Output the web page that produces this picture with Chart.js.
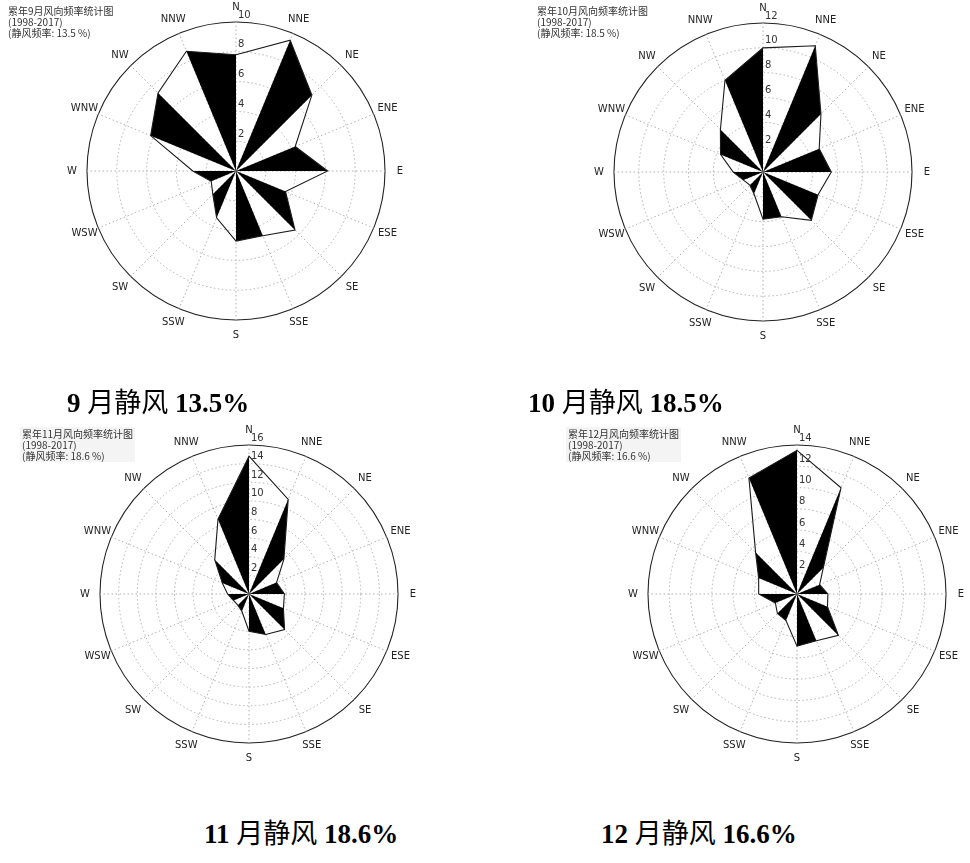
<!DOCTYPE html>
<html><head><meta charset="utf-8">
<script src="https://cdn.jsdelivr.net/npm/chart.js@4.4.0/dist/chart.umd.min.js"></script>
<style>
html,body{margin:0;padding:0;background:#fff;}
body{width:970px;height:863px;position:relative;overflow:hidden;}
canvas.rose{position:absolute;}
.title{position:absolute;font-family:"Noto Sans CJK SC",sans-serif;font-size:10px;line-height:11px;color:#333;white-space:pre;z-index:2;padding:1px 2px;}
.title.shade{background:#f4f4f4;}
.cap{position:absolute;font-family:"Liberation Serif","Noto Sans CJK SC",serif;font-size:27px;line-height:27px;color:#000;white-space:nowrap;}
.cap b{font-weight:bold;}
.cap .zh{font-family:"Noto Sans CJK SC",sans-serif;font-weight:normal;}
</style></head>
<body>
<div class="title" style="left:6px;top:4px;">累年9月风向频率统计图
(1998-2017)
(静风频率: 13.5 %)</div>
<div class="title" style="left:535px;top:4px;">累年10月风向频率统计图
(1998-2017)
(静风频率: 18.5 %)</div>
<div class="title shade" style="left:20px;top:427px;">累年11月风向频率统计图
(1998-2017)
(静风频率: 18.6 %)</div>
<div class="title shade" style="left:566px;top:427px;">累年12月风向频率统计图
(1998-2017)
(静风频率: 16.6 %)</div>

<canvas class="rose" id="c1" width="360" height="360" style="left:56px;top:-9px;"></canvas>
<canvas class="rose" id="c2" width="360" height="360" style="left:583px;top:-8px;"></canvas>
<canvas class="rose" id="c3" width="360" height="360" style="left:69px;top:414px;"></canvas>
<canvas class="rose" id="c4" width="360" height="360" style="left:617px;top:414px;"></canvas>

<div class="cap" style="left:67px;top:387px;"><b>9</b> <span class="zh">月静风</span> <b>13.5%</b></div>
<div class="cap" style="left:528px;top:387px;"><b>10</b> <span class="zh">月静风</span> <b>18.5%</b></div>
<div class="cap" style="left:204px;top:818px;"><b>11</b> <span class="zh">月静风</span> <b>18.6%</b></div>
<div class="cap" style="left:601px;top:818px;"><b>12</b> <span class="zh">月静风</span> <b>16.6%</b></div>

<script>
// ---- data ----
const directions = ['N','NNE','NE','ENE','E','ESE','SE','SSE','S','SSW','SW','WSW','W','WNW','NW','NNW'];
const sepFreq = [7.8, 9.5, 7.2, 4.3, 6.15, 3.6, 5.6, 4.7, 4.7, 3.4, 2.2, 1.8, 2.9, 6.2, 7.4, 8.7];
const octFreq = [10.0, 11.0, 6.6, 4.9, 5.5, 4.8, 5.5, 3.9, 3.8, 1.9, 1.5, 1.7, 2.4, 3.7, 4.85, 8.0];
const novFreq = [14.8, 11.0, 5.3, 3.2, 3.8, 4.0, 5.4, 4.7, 4.0, 2.0, 1.7, 1.8, 2.3, 3.1, 5.2, 8.7];
const decFreq = [13.5, 10.8, 3.5, 2.3, 2.9, 3.1, 5.5, 4.75, 4.9, 2.7, 2.6, 2.2, 3.6, 3.9, 5.5, 11.8];
const radialMax = [10, 12, 16, 14];
const tickStep = 2;

// filled (black) sectors: pairs of neighbouring directions, odd index -> next
const blackPairs = [[1,2],[3,4],[5,6],[7,8],[9,10],[11,12],[13,14],[15,0]];

// draws the direction names and the radial tick values, placed by the radial scale
const roseLabels = {
  id: 'roseLabels',
  afterDatasetsDraw(chart) {
    const s = chart.scales.r;
    const ctx = chart.ctx;
    ctx.save();
    ctx.fillStyle = '#222';
    ctx.font = '10px "DejaVu Sans"';
    ctx.textAlign = 'center';
    ctx.textBaseline = 'middle';
    chart.data.labels.forEach((lab, i) => {
      const p = s.getPointPosition(i, s.drawingArea + 15);
      ctx.fillText(lab, p.x, p.y);
    });
    ctx.fillStyle = '#333';
    ctx.textAlign = 'left';
    s.ticks.forEach((t) => {
      if (t.value === 0) return;
      const p = s.getPointPositionForValue(0, t.value);
      ctx.fillText(String(t.value), p.x + 2, p.y - 7);
    });
    ctx.restore();
  }
};

function makeRose(canvasId, freq, rMax) {
  const lastTick = rMax / tickStep;
  const datasets = blackPairs.map(([a, b]) => ({
    data: freq.map((v, k) => (k === a || k === b) ? v : 0),
    backgroundColor: '#000',
    borderWidth: 0,
    borderColor: 'rgba(0,0,0,0)',
    fill: 'origin',
    pointRadius: 0,
    order: 2
  }));
  datasets.push({
    data: freq,
    borderColor: '#1a1a1a',
    borderWidth: 1.1,
    backgroundColor: 'rgba(0,0,0,0)',
    fill: false,
    pointRadius: 0,
    order: 0
  });
  return new Chart(document.getElementById(canvasId), {
    type: 'radar',
    data: { labels: directions, datasets },
    plugins: [roseLabels],
    options: {
      responsive: false,
      animation: false,
      devicePixelRatio: 1,
      elements: { line: { tension: 0 } },
      plugins: { legend: { display: false }, tooltip: { enabled: false } },
      layout: { padding: 31 },
      scales: {
        r: {
          min: 0,
          max: rMax,
          startAngle: 0,
          ticks: { stepSize: tickStep, display: false },
          grid: {
            circular: true,
            color: (c) => c.index === lastTick ? '#222' : '#b0b0b0',
            lineWidth: (c) => c.index === lastTick ? 1.1 : 1
          },
          border: {
            dash: (c) => c.index === lastTick ? [] : [1.5, 2.5]
          },
          angleLines: {
            color: '#b0b0b0',
            lineWidth: 1,
            borderDash: [1.5, 2.5]
          },
          pointLabels: { display: false }
        }
      }
    }
  });
}

makeRose('c1', sepFreq, radialMax[0]);
makeRose('c2', octFreq, radialMax[1]);
makeRose('c3', novFreq, radialMax[2]);
makeRose('c4', decFreq, radialMax[3]);
</script>
</body></html>
